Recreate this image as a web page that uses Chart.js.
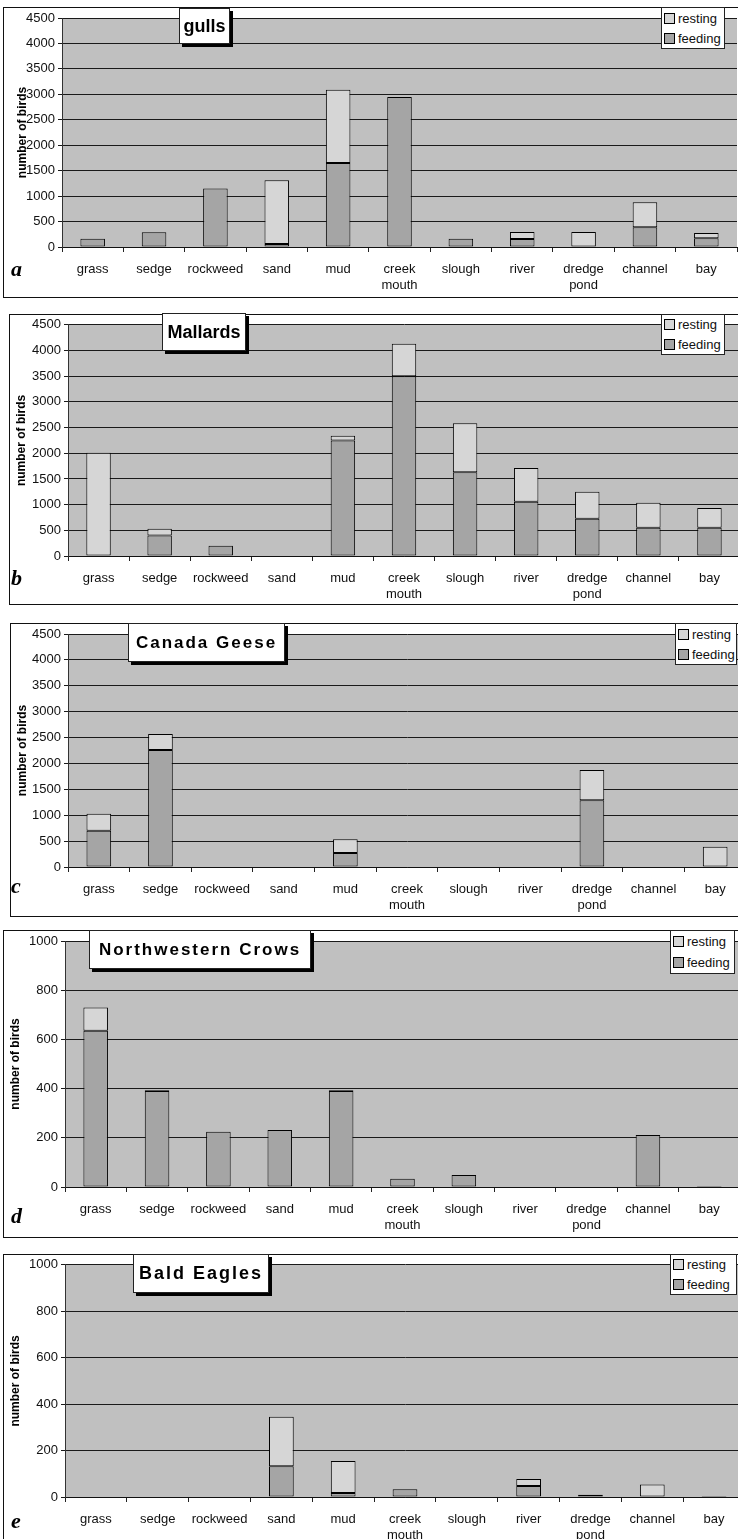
<!DOCTYPE html>
<html>
<head>
<meta charset="utf-8">
<title>Bird habitat use</title>
<script src="https://cdn.jsdelivr.net/npm/chart.js"></script>
<style>
  body { margin: 0; background: #fff; font-family: Arial, "Liberation Sans", sans-serif; }
  #page { position: relative; width: 738px; height: 1539px; overflow: hidden; }
  .panel { position: absolute; background: #fff; }
  .panel canvas { position: absolute; left: 0; top: 0; }
  .frame { position: absolute; left: 0; top: 0; right: 0; bottom: 0; border: 1px solid #111; pointer-events: none; }
  .ttl { position: absolute; background: #fff; border: 1px solid #222; box-shadow: 3px 3px 0 #000; box-sizing: border-box;
         font-weight: bold; color: #000; display: flex; align-items: center; justify-content: center; white-space: nowrap; }
  .lgd { position: absolute; background: #fff; border: 1px solid #222; box-sizing: border-box; font-size: 13px; color: #111;
         display: flex; flex-direction: column; justify-content: space-around; padding: 0 2px; white-space: nowrap; }
  .lgd .sw { display: inline-block; width: 9px; height: 9px; border: 1px solid #000; margin-right: 3px; vertical-align: -1px; }
  .tag { position: absolute; font-family: "Liberation Serif", "Times New Roman", serif; font-weight: bold; font-style: italic;
         font-size: 22px; line-height: 22px; color: #000; }
</style>
</head>
<body>
<div id="page"></div>

<script>
// habitats along the x axis
var categories = ['grass', 'sedge', 'rockweed', 'sand', 'mud', ['creek', 'mouth'], 'slough', 'river', ['dredge', 'pond'], 'channel', 'bay'];

// a - gulls
var gullsFeeding = [160, 290, 1150, 60, 1650, 2950, 160, 155, 0, 390, 170];
var gullsResting = [0, 0, 0, 1250, 1440, 0, 0, 140, 295, 490, 105];

// b - Mallards
var mallardsFeeding = [0, 400, 200, 0, 2250, 3500, 1630, 1055, 725, 550, 550];
var mallardsResting = [2010, 130, 0, 0, 90, 630, 955, 660, 525, 485, 385];

// c - Canada Geese
var geeseFeeding = [700, 2260, 0, 0, 270, 0, 0, 0, 1290, 0, 0];
var geeseResting = [330, 310, 0, 0, 265, 0, 0, 0, 585, 0, 390];

// d - Northwestern Crows
var crowsFeeding = [635, 390, 225, 232, 390, 34, 49, 0, 0, 211, 4];
var crowsResting = [95, 3, 0, 0, 3, 0, 0, 0, 0, 0, 0];

// e - Bald Eagles
var eaglesFeeding = [0, 0, 0, 132, 17, 33, 0, 47, 10, 0, 4];
var eaglesResting = [0, 0, 0, 214, 138, 0, 0, 30, 0, 54, 0];

// y axis ranges
var largeMax = 4500, largeStep = 500;
var smallMax = 1000, smallStep = 200;

var feedColor = '#a5a5a5';
var restColor = '#d6d6d6';

// box = outer frame, plot = inner gray area (page coordinates)
var panels = [
  { tag: 'a', title: 'gulls', feeding: gullsFeeding, resting: gullsResting, max: largeMax, step: largeStep,
    box: { x: 3, y: 7, w: 736, h: 291 }, plot: { l: 62, t: 18, r: 737, b: 247 }, titlePad: 12,
    ttl: { x: 179, y: 8, w: 51, h: 36, size: 18, sp: 0 }, lgd: { x: 661, y: 7, w: 64, h: 42 }, tagTop: 258 },
  { tag: 'b', title: 'Mallards', feeding: mallardsFeeding, resting: mallardsResting, max: largeMax, step: largeStep,
    box: { x: 9, y: 314, w: 733, h: 291 }, plot: { l: 68, t: 324, r: 740, b: 556 }, titlePad: 5,
    ttl: { x: 162, y: 313, w: 84, h: 38, size: 18, sp: 0 }, lgd: { x: 661, y: 314, w: 64, h: 41 }, tagTop: 567 },
  { tag: 'c', title: 'Canada Geese', feeding: geeseFeeding, resting: geeseResting, max: largeMax, step: largeStep,
    box: { x: 10, y: 623, w: 740, h: 294 }, plot: { l: 68, t: 634, r: 746, b: 867 }, titlePad: 5,
    ttl: { x: 128, y: 623, w: 157, h: 39, size: 17, sp: 2 }, lgd: { x: 675, y: 623, w: 62, h: 42 }, tagTop: 875 },
  { tag: 'd', title: 'Northwestern Crows', feeding: crowsFeeding, resting: crowsResting, max: smallMax, step: smallStep,
    box: { x: 3, y: 930, w: 740, h: 308 }, plot: { l: 65, t: 941, r: 740, b: 1187 }, titlePad: 5,
    ttl: { x: 89, y: 930, w: 222, h: 39, size: 17, sp: 2 }, lgd: { x: 670, y: 930, w: 65, h: 44 }, tagTop: 1205 },
  { tag: 'e', title: 'Bald Eagles', feeding: eaglesFeeding, resting: eaglesResting, max: smallMax, step: smallStep,
    box: { x: 3, y: 1254, w: 745, h: 300 }, plot: { l: 65, t: 1264, r: 745, b: 1497 }, titlePad: 5,
    ttl: { x: 133, y: 1254, w: 136, h: 39, size: 18, sp: 2 }, lgd: { x: 670, y: 1254, w: 67, h: 41 }, tagTop: 1510 }
];

// fill the plot area gray before anything else is drawn
var plotBg = {
  id: 'plotBg',
  beforeDraw: function(chart) {
    var a = chart.chartArea, c = chart.ctx;
    c.save();
    c.fillStyle = '#c0c0c0';
    c.fillRect(a.left, a.top, a.right - a.left, a.bottom - a.top);
    c.restore();
  }
};

var page = document.getElementById('page');

function place(el, x, y, w, h) {
  el.style.left = x + 'px';
  el.style.top = y + 'px';
  if (w != null) el.style.width = w + 'px';
  if (h != null) el.style.height = h + 'px';
}

panels.forEach(function(p) {
  var box = p.box, pl = p.plot;

  var wrap = document.createElement('div');
  wrap.className = 'panel';
  place(wrap, box.x, box.y, box.w, box.h);
  var canvas = document.createElement('canvas');
  canvas.width = box.w;
  canvas.height = box.h;
  wrap.appendChild(canvas);
  var frame = document.createElement('div');
  frame.className = 'frame';
  wrap.appendChild(frame);
  page.appendChild(wrap);

  var yWidth = pl.l - box.x;
  var xHeight = box.y + box.h - pl.b;

  new Chart(canvas.getContext('2d'), {
    type: 'bar',
    data: {
      labels: categories,
      datasets: [
        { label: 'feeding', data: p.feeding, backgroundColor: feedColor, borderColor: '#000', borderWidth: 1, borderSkipped: false },
        { label: 'resting', data: p.resting, backgroundColor: restColor, borderColor: '#000', borderWidth: 1, borderSkipped: false }
      ]
    },
    options: {
      responsive: false,
      animation: false,
      events: [],
      categoryPercentage: 0.4,
      barPercentage: 1,
      layout: { padding: { top: pl.t - box.y, right: box.x + box.w - pl.r, left: 0, bottom: 0 } },
      plugins: { legend: { display: false }, tooltip: { enabled: false } },
      scales: {
        x: {
          stacked: true,
          grid: { offset: true, drawOnChartArea: false, drawTicks: true, tickLength: 5, color: '#222' },
          border: { display: true, color: '#111', width: 1 },
          ticks: { autoSkip: false, maxRotation: 0, minRotation: 0, padding: 9, color: '#111',
                   font: { family: 'Arial, "Liberation Sans", sans-serif', size: 13, lineHeight: 1.25 } },
          afterFit: function(s) { s.height = xHeight; }
        },
        y: {
          stacked: true,
          min: 0,
          max: p.max,
          grid: { color: '#1a1a1a', lineWidth: 1, drawTicks: true, tickLength: 4 },
          border: { display: true, color: '#333', width: 1 },
          ticks: { stepSize: p.step, padding: 3, color: '#111',
                   font: { family: 'Arial, "Liberation Sans", sans-serif', size: 13 },
                   callback: function(v) { return String(v); } },
          title: { display: true, text: 'number of birds', color: '#000', padding: { top: p.titlePad, bottom: 0 },
                   font: { family: 'Arial, "Liberation Sans", sans-serif', size: 12, weight: 'bold' } },
          afterFit: function(s) { s.width = yWidth; }
        }
      }
    },
    plugins: [plotBg]
  });

  // title box
  var t = document.createElement('div');
  t.className = 'ttl';
  t.textContent = p.title;
  place(t, p.ttl.x, p.ttl.y, p.ttl.w, p.ttl.h);
  t.style.fontSize = p.ttl.size + 'px';
  t.style.letterSpacing = p.ttl.sp + 'px';
  page.appendChild(t);

  // legend box
  var lg = document.createElement('div');
  lg.className = 'lgd';
  place(lg, p.lgd.x, p.lgd.y, p.lgd.w, p.lgd.h);
  lg.innerHTML = '<div><span class="sw" style="background:' + restColor + '"></span>resting</div>' +
                 '<div><span class="sw" style="background:' + feedColor + '"></span>feeding</div>';
  page.appendChild(lg);

  // panel letter
  var tg = document.createElement('div');
  tg.className = 'tag';
  tg.textContent = p.tag;
  place(tg, 11, p.tagTop);
  page.appendChild(tg);
});
</script>
</body>
</html>
